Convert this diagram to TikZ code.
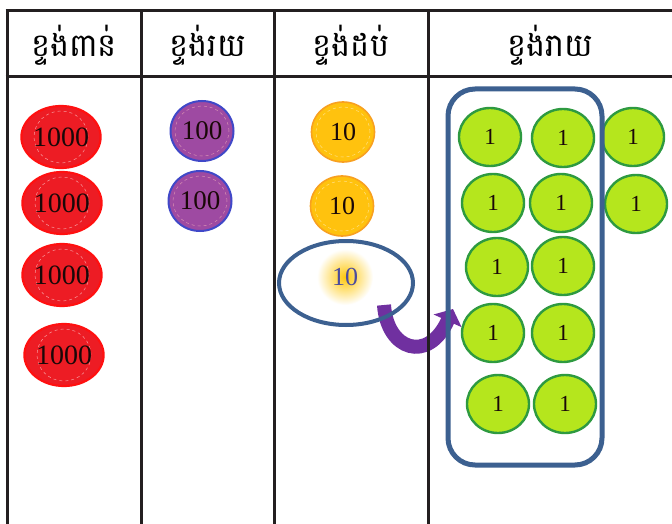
\documentclass[tikz,border=0pt]{standalone}
\usepackage{fontspec}
\setmainfont{Liberation Serif}
\newfontfamily\khmer[Script=Khmer]{Battambang}
\usetikzlibrary{arrows.meta,shapes.geometric}
\definecolor{tline}{HTML}{231F20}
\definecolor{kred}{HTML}{ED1C24}
\definecolor{kredb}{HTML}{FF1010}
\definecolor{kpur}{HTML}{9E4AA2}
\definecolor{kpurb}{HTML}{4048C8}
\definecolor{korg}{HTML}{FFC20E}
\definecolor{korgb}{HTML}{F8A020}
\definecolor{kgrn}{HTML}{B5E61D}
\definecolor{kgrnb}{HTML}{2E9A40}
\definecolor{kblue}{HTML}{3C6090}
\definecolor{karrow}{HTML}{7030A0}
\definecolor{ktxt}{HTML}{1A0808}
\tikzset{
  tableline/.style={draw=tline, line width=3pt},
  head/.style={font=\khmer\fontsize{32}{36}\selectfont, inner sep=0pt},
  coin/.style={ellipse, inner sep=0pt, text=ktxt},
  thousand/.style={coin, minimum width=64pt, minimum height=62pt, fill=kred, draw=kredb, line width=2.2pt,
    font=\fontsize{28}{28}\selectfont,
    path picture={\draw[white, dashed, opacity=.55, line width=.5pt] (path picture bounding box.center) ellipse (27pt and 26pt);}},
  hundred/.style={coin, minimum width=63pt, minimum height=60pt, fill=kpur, draw=kpurb, line width=2pt,
    font=\fontsize{27}{27}\selectfont,
    path picture={\draw[pink, dashed, opacity=.6, line width=.5pt] (path picture bounding box.center) ellipse (27pt and 25pt);}},
  ten/.style={coin, minimum width=63pt, minimum height=60pt, fill=korg, draw=korgb, line width=1.6pt,
    font=\fontsize{26}{26}\selectfont,
    path picture={\draw[white, dashed, opacity=.5, line width=.5pt] (path picture bounding box.center) ellipse (27pt and 25pt);}},
  one/.style={coin, minimum width=62pt, minimum height=58pt, fill=kgrn, draw=kgrnb, line width=2.4pt,
    font=\fontsize{23}{23}\selectfont},
  glow/.style={circle, minimum size=56pt, inner sep=0pt, shading=radial, inner color=korg!90!yellow, outer color=white,
    text=black!55!blue!70!white, font=\fontsize{26}{26}\selectfont},
  ring/.style={ellipse, draw=kblue, line width=4pt, minimum width=134pt, minimum height=84pt},
  group/.style={draw=kblue, line width=5pt, rounded corners=27pt},
  trade/.style={draw=karrow, line width=14pt, -{Triangle[length=13pt,width=30pt]}}
}
\begin{document}
\begin{tikzpicture}[x=1pt,y=-1pt]
\useasboundingbox (0,0) rectangle (672,524);
\fill[white] (0,0) rectangle (672,524);
% arrow first (lines drawn over it)
\coordinate (tailstart) at (384,305);
\coordinate (tipend) at (453,309);
\draw[trade] (tailstart) .. controls (387,350) and (428,364) .. (tipend);
% table
\draw[tableline] (5.5,11) -- (672,11);
\draw[tableline] (5.5,77) -- (672,77);
\foreach \x in {7,141,274,428} \draw[tableline] (\x,11) -- (\x,524);
% headers
\node[head] (h1) at (74,45) {ខ្ទង់ពាន់};
\node[head] (h2) at (207.5,45) {ខ្ទង់រយ};
\node[head] (h3) at (351,45) {ខ្ទង់ដប់};
\node[head] (h4) at (550,45) {ខ្ទង់រាយ};
% thousands
\node[thousand] (t1) at (61,137) {1000};
\node[thousand] (t2) at (62,203) {1000};
\node[thousand] (t3) at (62,275) {1000};
\node[thousand] (t4) at (64,355) {1000};
% hundreds
\node[hundred] (c1) at (202,131) {100};
\node[hundred] (c2) at (200,201) {100};
% tens
\node[ten] (d1) at (343,132) {10};
\node[ten] (d2) at (342,206) {10};
\node[glow] (d3) at (345,277) {10};
\node[ring] (r) at (346,283) {};
% ones
\node[one] (o1) at (490,137) {1};
\node[one] (o2) at (563,138) {1};
\node[one] (o3) at (633,137) {1};
\node[one] (o4) at (493,203) {1};
\node[one] (o5) at (561,203) {1};
\node[one] (o6) at (636,204) {1};
\node[one] (o7) at (497,267) {1};
\node[one] (o8) at (563,266) {1};
\node[one] (o9) at (493,333) {1};
\node[one] (o10) at (563,333) {1};
\node[one] (o11) at (498,404) {1};
\node[one] (o12) at (565,404) {1};
\draw[group] (448,89) rectangle (602,465);
\end{tikzpicture}
\end{document}
